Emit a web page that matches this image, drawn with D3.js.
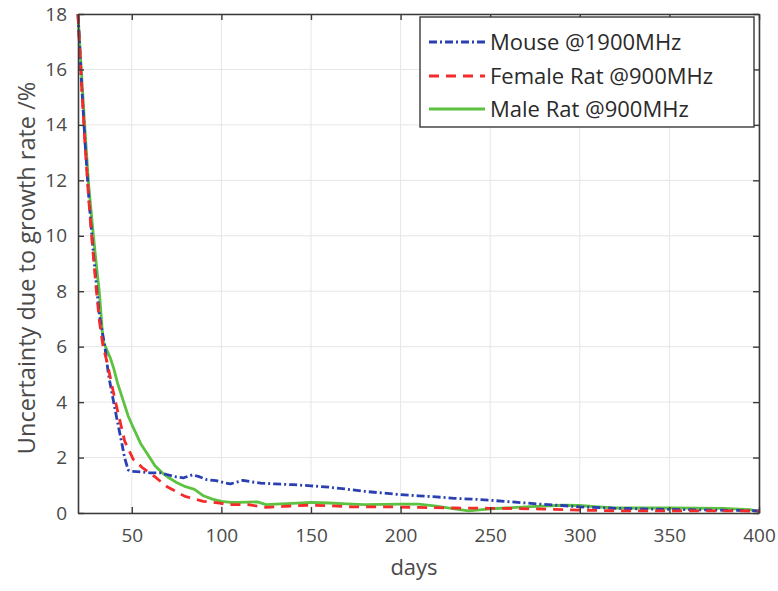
<!DOCTYPE html>
<html>
<head>
<meta charset="utf-8">
<script src="https://cdn.jsdelivr.net/npm/d3@7"></script>
<style>
  html, body { margin: 0; padding: 0; background: #fff; }
  svg { display: block; }
  text { font-family: "Open Sans", "DejaVu Sans", sans-serif; }
</style>
</head>
<body>
<svg id="chart" width="778" height="591"></svg>
<script>
// ---- data ----
const xTicks = [50, 100, 150, 200, 250, 300, 350, 400];
const yTicks = [0, 2, 4, 6, 8, 10, 12, 14, 16, 18];
const seriesNames = ["Mouse @1900MHz", "Female Rat @900MHz", "Male Rat @900MHz"];

const mouseDays = [20, 22, 24, 26, 28, 30, 32, 35, 37, 39, 42, 44.5, 46, 48, 50, 55, 60, 66, 70, 75, 79, 84, 88, 92, 97, 101, 105, 108, 112, 117, 122, 130, 140, 150, 160, 170, 180, 190, 200, 210, 220, 230, 240, 250, 260, 270, 280, 290, 300, 320, 340, 360, 380, 400];
const mouseVals = [18, 15.5, 13.3, 11.4, 9.8, 8.4, 7.1, 6.0, 5.0, 4.3, 3.3, 2.5, 2.0, 1.55, 1.5, 1.48, 1.45, 1.45, 1.38, 1.3, 1.27, 1.38, 1.3, 1.2, 1.17, 1.1, 1.05, 1.1, 1.18, 1.12, 1.08, 1.05, 1.02, 0.98, 0.93, 0.86, 0.78, 0.72, 0.66, 0.62, 0.58, 0.53, 0.5, 0.46, 0.41, 0.36, 0.31, 0.27, 0.22, 0.17, 0.14, 0.12, 0.1, 0.08];

const femaleDays = [20, 22, 24, 26, 28, 30, 32, 34, 36, 40.6, 46, 50.7, 55.7, 63, 69.7, 79.7, 90, 99, 103, 115, 125, 135, 148, 160, 173, 196, 210, 230, 250, 265, 280, 304, 320, 350, 380, 400];
const femaleVals = [18, 15.4, 13.2, 11.3, 9.7, 8.2, 6.9, 6.0, 5.5, 4.1, 2.6, 1.95, 1.65, 1.3, 0.95, 0.6, 0.42, 0.36, 0.3, 0.3, 0.2, 0.24, 0.28, 0.26, 0.22, 0.22, 0.2, 0.18, 0.17, 0.16, 0.14, 0.1, 0.08, 0.08, 0.08, 0.07];

const maleDays = [20, 22, 24, 26, 28, 30, 32, 34, 36, 38, 40, 42, 45, 48, 50, 55, 60, 63, 67, 70, 75, 80, 85, 90, 95, 100, 105, 110, 120, 125, 130, 140, 150, 160, 170, 180, 200, 210, 220, 230, 238, 250, 270, 290, 300, 310, 320, 350, 380, 395, 400];
const maleVals = [18, 15.8, 13.7, 11.8, 10.4, 9.1, 7.9, 6.2, 5.9, 5.6, 5.2, 4.7, 4.1, 3.5, 3.2, 2.5, 2.0, 1.7, 1.45, 1.3, 1.1, 0.95, 0.85, 0.62, 0.5, 0.42, 0.38, 0.38, 0.4, 0.3, 0.32, 0.35, 0.38, 0.36, 0.33, 0.3, 0.32, 0.32, 0.25, 0.15, 0.08, 0.15, 0.22, 0.28, 0.27, 0.22, 0.18, 0.18, 0.17, 0.12, 0.05];

// ---- layout ----
const svg = d3.select("#chart");
const mL = 78, mR = 759, mT = 14, mB = 513;
const x = d3.scaleLinear().domain([20, 400]).range([mL, mR]);
const y = d3.scaleLinear().domain([0, 18]).range([mB, mT]);

const axisColor = "#3a3a3a";
const tickTextColor = "#4a4a4a";

// grid
const g = svg.append("g");
g.selectAll(".gx").data(xTicks).join("line")
  .attr("x1", d => x(d)).attr("x2", d => x(d))
  .attr("y1", mT).attr("y2", mB)
  .attr("stroke", "#e6e6e6").attr("stroke-width", 1);
g.selectAll(".gy").data(yTicks).join("line")
  .attr("y1", d => y(d)).attr("y2", d => y(d))
  .attr("x1", mL).attr("x2", mR)
  .attr("stroke", "#e6e6e6").attr("stroke-width", 1);

// series
const series = [
  { name: seriesNames[0], days: mouseDays, vals: mouseVals, color: "#2a40b2", dash: "8,3,2,3" },
  { name: seriesNames[1], days: femaleDays, vals: femaleVals, color: "#f52a2a", dash: "10,7" },
  { name: seriesNames[2], days: maleDays, vals: maleVals, color: "#5dc23f", dash: null }
];
const line = d3.line().x(d => x(d[0])).y(d => y(d[1]));
const plot = svg.append("g");
const drawOrder = [2, 0, 1];
drawOrder.forEach(i => {
  const s = series[i];
  plot.append("path")
    .datum(s.days.map((d, k) => [d, s.vals[k]]))
    .attr("d", line)
    .attr("fill", "none")
    .attr("stroke", s.color)
    .attr("stroke-width", 2.8)
    .attr("stroke-dasharray", s.dash)
    .attr("stroke-linejoin", "round");
});

// axes frame with inward ticks (MATLAB box style)
const xAxisB = d3.axisBottom(x).tickValues(xTicks).tickSizeInner(-6).tickSizeOuter(0).tickPadding(16);
const xAxisT = d3.axisTop(x).tickValues(xTicks).tickSizeInner(-6).tickSizeOuter(0).tickFormat("");
const yAxisL = d3.axisLeft(y).tickValues(yTicks).tickSizeInner(-6).tickSizeOuter(0).tickPadding(11);
const yAxisR = d3.axisRight(y).tickValues(yTicks).tickSizeInner(-6).tickSizeOuter(0).tickFormat("");

function styleAxis(sel) {
  sel.select(".domain").attr("stroke", axisColor).attr("stroke-width", 1.6);
  sel.selectAll(".tick line").attr("stroke", axisColor).attr("stroke-width", 1.4);
  sel.selectAll(".tick text").attr("fill", tickTextColor)
    .style("font-family", '"Open Sans", sans-serif').style("font-size", "19px");
}
svg.append("g").attr("transform", `translate(0,${mB})`).call(xAxisB).call(styleAxis);
svg.append("g").attr("transform", `translate(0,${mT})`).call(xAxisT).call(styleAxis);
svg.append("g").attr("transform", `translate(${mL},0)`).call(yAxisL).call(styleAxis);
svg.append("g").attr("transform", `translate(${mR},0)`).call(yAxisR).call(styleAxis);

// axis labels
svg.append("text")
  .attr("x", 414).attr("y", 575)
  .attr("text-anchor", "middle")
  .attr("fill", tickTextColor)
  .style("font-size", "22px")
  .text("days");
svg.append("text")
  .attr("transform", `translate(35,268) rotate(-90)`)
  .attr("text-anchor", "middle")
  .attr("fill", tickTextColor)
  .style("font-size", "23.5px")
  .text("Uncertainty due to growth rate /%");

// legend
const lg = svg.append("g");
lg.append("rect")
  .attr("x", 420).attr("y", 17).attr("width", 334).attr("height", 110)
  .attr("fill", "#fff").attr("stroke", axisColor).attr("stroke-width", 1.4);
const rowsY = [42, 76, 109];
series.forEach((s, i) => {
  lg.append("line")
    .attr("x1", 429).attr("x2", 485)
    .attr("y1", rowsY[i]).attr("y2", rowsY[i])
    .attr("stroke", s.color).attr("stroke-width", 2.8)
    .attr("stroke-dasharray", s.dash);
  lg.append("text")
    .attr("x", 490).attr("y", rowsY[i])
    .attr("dy", "0.36em")
    .attr("fill", "#2a2a2a")
    .style("font-size", "22px")
    .text(s.name);
});
</script>
</body>
</html>
